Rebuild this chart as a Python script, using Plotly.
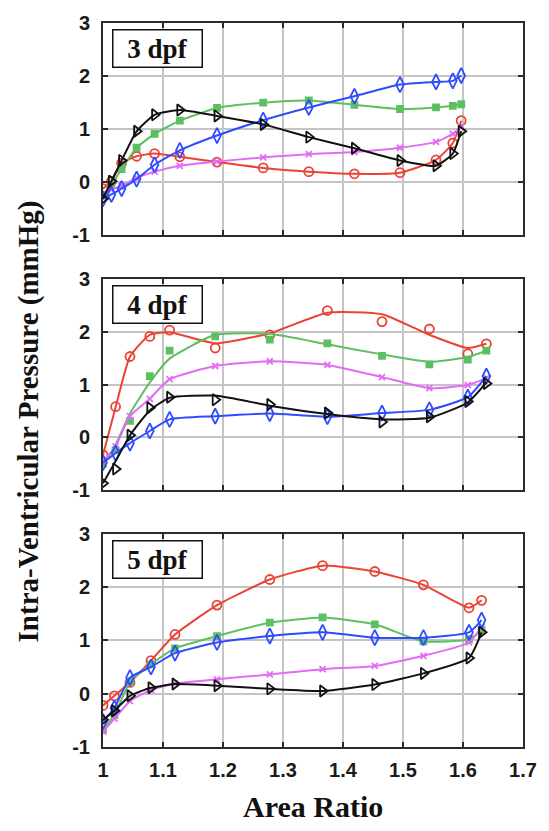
import plotly.graph_objects as go

# ---- Area ratio sample positions for each developmental stage ----
X_3DPF = [1.0, 1.014, 1.031, 1.056, 1.086, 1.128, 1.19, 1.267, 1.343, 1.419, 1.495, 1.555, 1.583, 1.597]
X_4DPF = [1.0, 1.021, 1.045, 1.078, 1.111, 1.187, 1.278, 1.374, 1.465, 1.544, 1.608, 1.639]
X_5DPF = [1.0, 1.019, 1.045, 1.080, 1.120, 1.190, 1.278, 1.366, 1.453, 1.534, 1.610, 1.631]

# ---- 3 dpf pressures (mmHg) ----
RED_3 = [-0.12, 0.02, 0.36, 0.49, 0.54, 0.48, 0.38, 0.27, 0.20, 0.16, 0.18, 0.42, 0.74, 1.16]
GREEN_3 = [-0.25, -0.05, 0.25, 0.65, 0.91, 1.16, 1.40, 1.50, 1.54, 1.46, 1.38, 1.41, 1.44, 1.47]
BLUE_3 = [-0.31, -0.23, -0.12, 0.06, 0.33, 0.60, 0.88, 1.17, 1.41, 1.62, 1.84, 1.89, 1.91, 2.01]
MAGENTA_3 = [-0.22, -0.14, -0.07, 0.08, 0.20, 0.31, 0.39, 0.47, 0.53, 0.57, 0.65, 0.76, 0.91, 1.04]
BLACK_3 = [-0.31, 0.02, 0.41, 0.96, 1.27, 1.36, 1.25, 1.09, 0.85, 0.64, 0.41, 0.31, 0.54, 0.96]

# ---- 4 dpf pressures (mmHg): measured points and smoothed curves ----
RED_4 = [-0.33, 0.58, 1.53, 1.91, 2.03, 1.69, 1.94, 2.40, 2.19, 2.05, 1.58, 1.77]
RED_4_FIT = [-0.33, 0.57, 1.53, 1.94, 1.99, 1.78, 1.97, 2.36, 2.33, 1.94, 1.69, 1.77]
GREEN_4 = [-0.50, -0.24, 0.31, 1.16, 1.64, 1.91, 1.85, 1.78, 1.54, 1.38, 1.47, 1.64]
GREEN_4_FIT = [-0.55, -0.14, 0.45, 1.04, 1.49, 1.94, 1.96, 1.76, 1.57, 1.43, 1.52, 1.64]
BLUE_4 = [-0.48, -0.30, -0.11, 0.12, 0.34, 0.40, 0.45, 0.39, 0.46, 0.52, 0.76, 1.16]
MAGENTA_4 = [-0.45, -0.17, 0.40, 0.73, 1.10, 1.35, 1.44, 1.37, 1.14, 0.93, 0.99, 1.12]
BLACK_4 = [-0.87, -0.60, 0.04, 0.56, 0.76, 0.71, 0.62, 0.46, 0.29, 0.39, 0.68, 1.02]
BLACK_4_FIT = [-0.87, -0.45, 0.04, 0.51, 0.75, 0.79, 0.60, 0.44, 0.34, 0.37, 0.66, 1.04]

# ---- 5 dpf pressures (mmHg) ----
RED_5 = [-0.22, -0.04, 0.21, 0.62, 1.11, 1.66, 2.14, 2.40, 2.29, 2.04, 1.61, 1.75]
GREEN_5 = [-0.68, -0.40, 0.22, 0.55, 0.85, 1.08, 1.33, 1.43, 1.30, 0.98, 1.02, 1.19]
BLUE_5 = [-0.52, -0.27, 0.30, 0.50, 0.76, 0.96, 1.08, 1.15, 1.05, 1.05, 1.15, 1.38]
MAGENTA_5 = [-0.71, -0.47, -0.14, 0.07, 0.19, 0.27, 0.36, 0.46, 0.52, 0.71, 0.96, 1.25]
BLACK_5 = [-0.49, -0.32, -0.04, 0.11, 0.18, 0.15, 0.09, 0.05, 0.17, 0.38, 0.67, 1.15]

PANEL_LABELS = ["3 dpf", "4 dpf", "5 dpf"]
X_TICKS = [1.0, 1.1, 1.2, 1.3, 1.4, 1.5, 1.6, 1.7]
X_TICK_TEXT = ["<b>1</b>", "<b>1.1</b>", "<b>1.2</b>", "<b>1.3</b>", "<b>1.4</b>", "<b>1.5</b>", "<b>1.6</b>", "<b>1.7</b>"]
Y_TICKS = [-1, 0, 1, 2, 3]
Y_TICK_TEXT = ["<b>-1</b>", "<b>0</b>", "<b>1</b>", "<b>2</b>", "<b>3</b>"]

# series styling: colour, marker symbol, marker size
STYLES = {
    "red": ("#ea4335", "circle-open", 9),
    "green": ("#5dbf62", "square", 6),
    "blue": ("#2f4bff", "diamond-tall-open", 11),
    "magenta": ("#e36bf5", "x-thin-open", 6),
    "black": ("#111111", "triangle-right-open", 10),
}

panels = [
    (X_3DPF, [("red", RED_3, RED_3), ("green", GREEN_3, GREEN_3), ("magenta", MAGENTA_3, MAGENTA_3),
              ("blue", BLUE_3, BLUE_3), ("black", BLACK_3, BLACK_3)]),
    (X_4DPF, [("red", RED_4, RED_4_FIT), ("green", GREEN_4, GREEN_4_FIT), ("magenta", MAGENTA_4, MAGENTA_4),
              ("blue", BLUE_4, BLUE_4), ("black", BLACK_4, BLACK_4_FIT)]),
    (X_5DPF, [("red", RED_5, RED_5), ("green", GREEN_5, GREEN_5), ("magenta", MAGENTA_5, MAGENTA_5),
              ("blue", BLUE_5, BLUE_5), ("black", BLACK_5, BLACK_5)]),
]

W, H = 549, 831
ML, MR, MT, MB = 103, 16, 14, 84
plot_h = H - MT - MB
# vertical pixel extents (top, bottom) of each panel
PANEL_PX = [(14, 229), (273, 487), (531, 747)]

fig = go.Figure()
layout_axes = {}
for i, ((xs, series), (ptop, pbot)) in enumerate(zip(panels, PANEL_PX)):
    n = i + 1
    xa = "x" if n == 1 else f"x{n}"
    ya = "y" if n == 1 else f"y{n}"
    for name, meas, fit in series:
        col, sym, size = STYLES[name]
        fig.add_trace(go.Scatter(
            x=xs, y=fit, mode="lines", xaxis=xa, yaxis=ya,
            line=dict(color=col, width=2, shape="spline", smoothing=0.5),
            showlegend=False, hoverinfo="skip"))
        mline = dict(color=col, width=1.8)
        fig.add_trace(go.Scatter(
            x=xs, y=meas, mode="markers", xaxis=xa, yaxis=ya,
            marker=dict(symbol=sym, size=size, color=col, line=mline),
            showlegend=False, name=name))
    d0 = (H - MB - pbot) / plot_h
    d1 = (H - MB - ptop) / plot_h
    axis_common = dict(
        showline=True, linecolor="#2b2b2b", linewidth=2, mirror="ticks",
        ticks="inside", ticklen=5, tickcolor="#2b2b2b", tickwidth=1.5,
        showgrid=True, gridcolor="#c4c4c4", gridwidth=1.5, zeroline=False,
        tickfont=dict(family="Liberation Sans", size=20, color="#1a1a1a"),
    )
    layout_axes["xaxis" if n == 1 else f"xaxis{n}"] = dict(
        axis_common, range=[1.0, 1.7], tickvals=X_TICKS, ticktext=X_TICK_TEXT,
        showticklabels=(n == 3), anchor=ya, domain=[0, 1],
        ticklabelstandoff=4,
        **({"matches": "x"} if n > 1 else {}))
    layout_axes["yaxis" if n == 1 else f"yaxis{n}"] = dict(
        axis_common, range=[-1, 3], tickvals=Y_TICKS, ticktext=Y_TICK_TEXT,
        anchor=xa, domain=[d0, d1], ticklabelstandoff=7)

annotations = []
for i, label in enumerate(PANEL_LABELS):
    n = i + 1
    ya = "y" if n == 1 else f"y{n}"
    annotations.append(dict(
        text=f"<b>{label}</b>", xref="x domain" if n == 1 else f"x{n} domain",
        yref=f"{ya} domain", x=0.021, y=0.972, xanchor="left", yanchor="top",
        showarrow=False, bordercolor="#111111", borderwidth=1.5, borderpad=1,
        bgcolor="white", width=86, height=34,
        font=dict(family="Liberation Serif", size=27, color="#111111")))

annotations.append(dict(
    text="<b>Area Ratio</b>", xref="paper", yref="paper", x=0.5, y=-0.082,
    xanchor="center", yanchor="middle", showarrow=False,
    font=dict(family="Liberation Serif", size=30, color="#111111")))
annotations.append(dict(
    text="<b>Intra-Ventricular Pressure (mmHg)</b>", xref="paper", yref="paper",
    x=-0.178, y=0.45, xanchor="center", yanchor="middle", textangle=-90,
    showarrow=False,
    font=dict(family="Liberation Serif", size=29, color="#111111")))

fig.update_layout(
    width=W, height=H, margin=dict(l=ML, r=MR, t=MT, b=MB),
    plot_bgcolor="white", paper_bgcolor="white",
    annotations=annotations, **layout_axes)

fig.write_html("out.html")
